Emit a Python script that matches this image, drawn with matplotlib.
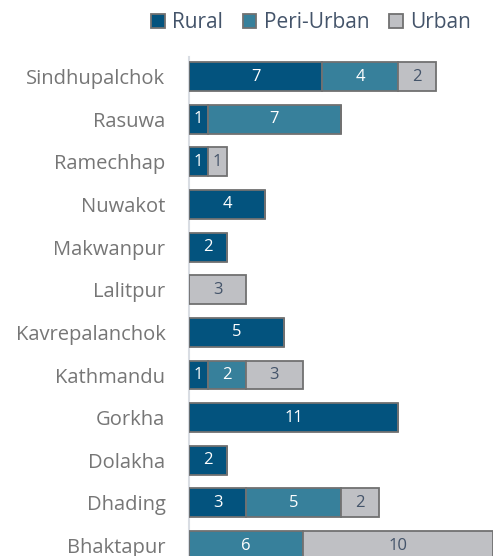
import matplotlib
matplotlib.use("Agg")
import matplotlib.pyplot as plt
from matplotlib.patches import Patch

plt.rcParams['font.family'] = ['Open Sans', 'DejaVu Sans']

districts = ["Bhaktapur", "Dhading", "Dolakha", "Gorkha", "Kathmandu", "Kavrepalanchok",
             "Lalitpur", "Makwanpur", "Nuwakot", "Ramechhap", "Rasuwa", "Sindhupalchok"]
rural =      [0, 3, 2, 11, 1, 5, 0, 2, 4, 1, 1, 7]
peri_urban = [6, 5, 0, 0, 2, 0, 0, 0, 0, 0, 7, 4]
urban =      [10, 2, 0, 0, 3, 0, 3, 0, 0, 1, 0, 2]
series_names = ["Rural", "Peri-Urban", "Urban"]

colors = ["#03537E", "#37809B", "#BFC0C4"]
text_colors = ["white", "white", "#44546A"]

fig = plt.figure(figsize=(4.93, 5.56), dpi=100)
ax = fig.add_axes([189/493, 0, 1 - 189/493, 1 - 57/556])

y = list(range(len(districts)))
left = [0] * len(districts)
for vals, col, tc in zip([rural, peri_urban, urban], colors, text_colors):
    ax.barh(y, vals, left=left, height=0.68, color=col,
            edgecolor="#717171", linewidth=1.3, zorder=2)
    for yi, v, l in zip(y, vals, left):
        if v > 0:
            ax.text(l + v / 2, yi, str(v), ha="center", va="center",
                    color=tc, fontsize=12, zorder=3)
    left = [a + b for a, b in zip(left, vals)]

ax.set_xlim(0, 16)
ax.set_ylim(-0.246, 11.46)
ax.set_yticks(y)
ax.set_yticklabels(districts, fontsize=14.5, color="#767676")
ax.tick_params(axis="y", length=0, pad=17)
ax.set_xticks([])
for s in ["top", "right", "bottom"]:
    ax.spines[s].set_visible(False)
ax.spines["left"].set_color("#D9DDE3")
ax.spines["left"].set_linewidth(1.5)
ax.spines["left"].set_zorder(1)

handles = [Patch(facecolor=c, edgecolor="#717171", linewidth=1.3) for c in colors]
fig.legend(handles, series_names, loc="center", bbox_to_anchor=(311/493, 1 - 23/556),
           ncol=3, frameon=False, fontsize=15, handlelength=0.65, handleheight=0.65,
           handletextpad=0.35, columnspacing=0.95, labelcolor="#44546A", borderpad=0)

fig.savefig("out.png", dpi=100)
